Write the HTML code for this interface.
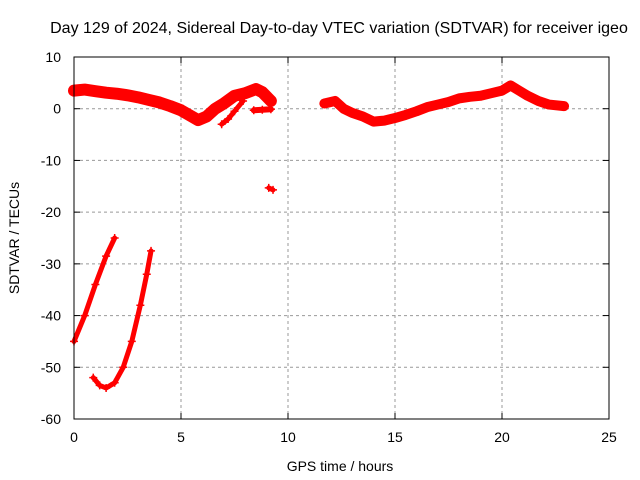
<!DOCTYPE html>
<html><head><meta charset="utf-8"><style>
body{margin:0;background:#fff}
svg{display:block;font-family:"Liberation Sans",sans-serif}
</style></head><body>
<svg id="c" width="640" height="480">
<text x="339" y="33" font-size="16" text-anchor="middle">Day 129 of 2024, Sidereal Day-to-day VTEC variation (SDTVAR) for receiver igeo</text>
<text x="340" y="471" font-size="14" text-anchor="middle">GPS time / hours</text>
<text transform="translate(19,238) rotate(-90)" font-size="14" text-anchor="middle">SDTVAR / TECUs</text>
<g id="grid"></g><g id="marks"></g>
<rect x="74" y="57" width="535" height="362" fill="none" stroke="#000" stroke-width="1"/>
</svg>
<script>
const xTicks=[0,5,10,15,20,25];
const yTicks=[10,0,-10,-20,-30,-40,-50,-60];
const s1x=[0,0.5,1,1.5,2,2.5,3,3.5,4,4.5,5,5.5,5.8,6.2,6.6,7,7.5,8,8.5,8.8,9.2];
const s1y=[3.5,3.7,3.4,3.1,2.9,2.6,2.2,1.7,1.2,0.5,-0.3,-1.5,-2.2,-1.5,0,1,2.5,3,3.8,3.2,1.5];
const s2x=[6.9,7.2,7.5,7.9];
const s2y=[-3,-2,-0.5,1.5];
const s7x=[8.4,8.8,9.2];
const s7y=[-0.3,-0.2,-0.1];
const s3x=[11.7,12.2,12.6,13,13.5,14,14.5,15,15.5,16,16.5,17,17.5,18,18.5,19,19.5,20,20.4,20.8,21.2,21.7,22.2,22.9];
const s3y=[1,1.5,0,-0.8,-1.5,-2.5,-2.3,-1.8,-1.2,-0.5,0.3,0.8,1.3,2,2.3,2.5,3,3.5,4.5,3.5,2.5,1.5,0.8,0.5];
const s4x=[9.1,9.3];
const s4y=[-15.3,-15.7];
const s5x=[0,0.5,1,1.5,1.9];
const s5y=[-45,-40,-34,-28.5,-25];
const s6x=[0.9,1.2,1.5,1.9,2.3,2.7,3.1,3.4,3.6];
const s6y=[-52,-53.5,-54,-53,-50,-45,-38,-32,-27.5];
const L=74,R=609,T=57,B=419;
const X=v=>L+(v-0)/25*(R-L);
const Y=v=>T+(10-v)/70*(B-T);
const NS="http://www.w3.org/2000/svg";
const grid=document.getElementById('grid'),marks=document.getElementById('marks');
function mk(t,a,p){const e=document.createElementNS(NS,t);for(const k in a)e.setAttribute(k,a[k]);p.appendChild(e);return e;}
xTicks.forEach(v=>{
 if(v>0&&v<25){const g=mk('line',{x1:X(v),x2:X(v),y1:T,y2:B,stroke:'#999','stroke-dasharray':'3,3'},grid);
 
 }
 mk('line',{x1:X(v),x2:X(v),y1:B,y2:B-6,stroke:'#000'},grid);
 mk('line',{x1:X(v),x2:X(v),y1:T,y2:T+6,stroke:'#000'},grid);
 const t=mk('text',{x:X(v),y:B+23,'font-size':14,'text-anchor':'middle'},grid);t.textContent=v;
 
 
});
yTicks.forEach(v=>{
 if(v<10&&v>-60){const g=mk('line',{x1:L,x2:R,y1:Y(v),y2:Y(v),stroke:'#999','stroke-dasharray':'3,3'},grid);
 
 }
 mk('line',{x1:L,x2:L+6,y1:Y(v),y2:Y(v),stroke:'#000'},grid);
 mk('line',{x1:R,x2:R-6,y1:Y(v),y2:Y(v),stroke:'#000'},grid);
 const t=mk('text',{x:L-13,y:Y(v)+5,'font-size':14,'text-anchor':'end'},grid);t.textContent=v;
 
 
});
function series(xs,ys,w,name){
 const p=mk('polyline',{points:xs.map((x,i)=>X(x)+','+Y(ys[i])).join(' '),fill:'none',stroke:'#f00','stroke-width':w,'stroke-linejoin':'round','stroke-linecap':'round'},marks);
 
 
 xs.forEach((x,i)=>{const cx=X(x),cy=Y(ys[i]);
  mk('path',{d:`M${cx-4},${cy}h8M${cx},${cy-4}v8`,stroke:'#f00','stroke-width':1.5},marks);});
}
series(s1x,s1y,12,'series-morning-band');
series(s2x,s2y,5,'series-morning-spur');
series(s7x,s7y,6,'series-morning-loop');
series(s3x,s3y,10,'series-afternoon-band');
series(s4x,s4y,5,'series-outlier');
series(s5x,s5y,5,'series-low-arc-1');
series(s6x,s6y,5,'series-low-arc-2');
</script>
</body></html>
